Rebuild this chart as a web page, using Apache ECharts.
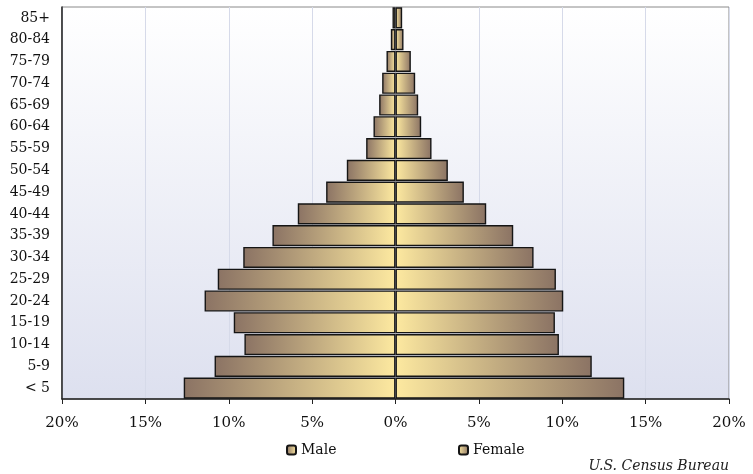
<!DOCTYPE html>
<html>
<head>
<meta charset="utf-8">
<script src="https://cdn.jsdelivr.net/npm/echarts@6/dist/echarts.min.js"></script>
<style>html,body{margin:0;padding:0;background:#fff}#c{width:753px;height:474px}</style>
</head>
<body>
<div id="c"></div>
<script>
const ageGroups = ['< 5','5-9','10-14','15-19','20-24','25-29','30-34','35-39','40-44','45-49','50-54','55-59','60-64','65-69','70-74','75-79','80-84','85+'];
const maleValues = [12.7,10.85,9.06,9.7,11.45,10.66,9.13,7.38,5.86,4.16,2.92,1.76,1.32,0.98,0.8,0.54,0.28,0.18];
const femaleValues = [13.72,11.77,9.8,9.56,10.06,9.62,8.28,7.06,5.44,4.1,3.14,2.16,1.54,1.36,1.18,0.92,0.48,0.4];
const xTicks = [-20,-15,-10,-5,0,5,10,15,20];

const DARK = '#8b7364', LIGHT = '#fde9a0';
const FONT = 'DejaVu Serif';
const chart = echarts.init(document.getElementById('c'), null, {renderer:'canvas'});
const maleGrad = new echarts.graphic.LinearGradient(0,0,1,0,[{offset:0,color:DARK},{offset:1,color:LIGHT}]);
const femaleGrad = new echarts.graphic.LinearGradient(0,0,1,0,[{offset:0,color:LIGHT},{offset:1,color:DARK}]);
chart.setOption({
  animation:false,
  textStyle:{fontFamily:FONT},
  grid:{left:62,right:24,top:7,bottom:75,show:true,borderColor:'#8a8a8a',borderWidth:1,
    backgroundColor:new echarts.graphic.LinearGradient(0,0,0,1,[{offset:0,color:'#ffffff'},{offset:1,color:'#dde0ef'}])},
  legend:[
    {data:['Male'],left:281,top:438,itemWidth:9,itemHeight:9,itemGap:5,textStyle:{fontFamily:FONT,fontSize:14,color:'#111'}},
    {data:['Female'],left:453,top:438,itemWidth:9,itemHeight:9,itemGap:5,textStyle:{fontFamily:FONT,fontSize:14,color:'#111'}}
  ],
  xAxis:{type:'value',min:xTicks[0],max:xTicks[xTicks.length-1],interval:5,
    axisLine:{show:true,lineStyle:{color:'#222',width:1.5}},
    axisTick:{show:true,length:5,lineStyle:{color:'#222'}},
    axisLabel:{margin:17,fontSize:15,color:'#111',fontFamily:FONT,formatter:v=>Math.abs(v)+'%'},
    splitLine:{show:true,lineStyle:{color:'#d6dae9',width:1}}},
  yAxis:{type:'category',data:ageGroups,
    axisLine:{show:true,onZero:false,lineStyle:{color:'#222',width:1.5}},
    axisTick:{show:false},
    axisLabel:{margin:12,fontSize:14,color:'#111',fontFamily:FONT}},
  series:[
    {name:'Male',type:'bar',data:maleValues.map(v=>-v),barGap:'-100%',barCategoryGap:'3%',
     itemStyle:{color:maleGrad,borderColor:'#151515',borderWidth:1.4}},
    {name:'Female',type:'bar',data:femaleValues,barGap:'-100%',barCategoryGap:'3%',
     itemStyle:{color:femaleGrad,borderColor:'#151515',borderWidth:1.4}}
  ],
  graphic:[{type:'text',right:24,top:459,style:{text:'U.S. Census Bureau',font:'italic 14px "DejaVu Serif"',fill:'#222'}}]
});
</script>
</body>
</html>
